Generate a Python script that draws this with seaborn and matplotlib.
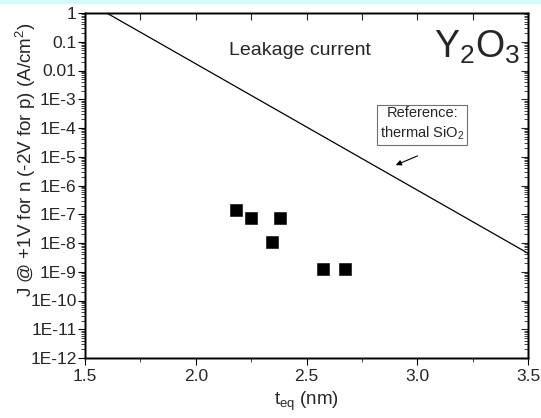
import matplotlib
matplotlib.use("Agg")
import matplotlib.pyplot as plt
import matplotlib.ticker as mticker
from matplotlib.patches import Rectangle
import seaborn as sns
import pandas as pd
import numpy as np

# Data
teq_points = [2.183, 2.248, 2.379, 2.346, 2.576, 2.673]
j_points = [1.44e-7, 7.2e-8, 7.2e-8, 1.08e-8, 1.28e-9, 1.28e-9]
sio2_teq = [1.598, 3.5]
sio2_j = [1.0, 4.4e-9]
ytick_vals = [10.0 ** e for e in range(0, -13, -1)]
ytick_labels = ["1", "0.1", "0.01"] + [f"1E-{k}" for k in range(3, 13)]
xtick_vals = [1.5, 2.0, 2.5, 3.0, 3.5]
xtick_labels = ["1.5", "2.0", "2.5", "3.0", "3.5"]

pts = pd.DataFrame({"teq": teq_points, "J": j_points})
ref = pd.DataFrame({"teq": sio2_teq, "J": sio2_j})

sns.set_style("ticks")
plt.rcParams["font.family"] = ["Liberation Sans", "DejaVu Sans"]
plt.rcParams["mathtext.fontset"] = "custom"
plt.rcParams["mathtext.rm"] = "Liberation Sans"
plt.rcParams["mathtext.it"] = "Liberation Sans"

fig = plt.figure(figsize=(5.41, 4.18), dpi=100)
fig.patch.set_facecolor("white")
fig.patches.append(Rectangle((0, 1 - 4 / 418), 1, 4 / 418, transform=fig.transFigure,
                             facecolor="#d4fafa", edgecolor="none", zorder=0))
ax = fig.add_axes([85 / 541, 1 - 358 / 418, (528 - 85) / 541, (358 - 13) / 418])

sns.lineplot(data=ref, x="teq", y="J", ax=ax, color="black", linewidth=0.9)
sns.scatterplot(data=pts, x="teq", y="J", ax=ax, marker="s", s=72, color="black",
                edgecolor="black", linewidth=0.4, zorder=3)

ax.set_yscale("log")
ax.set_xlim(1.5, 3.5)
ax.set_ylim(1e-12, 1)

ax.set_yticks(ytick_vals)
ax.set_yticklabels(ytick_labels)
ax.yaxis.set_minor_locator(mticker.LogLocator(base=10, subs=np.arange(2, 10), numticks=100))
ax.yaxis.set_minor_formatter(mticker.NullFormatter())
ax.set_xticks(xtick_vals)
ax.set_xticklabels(xtick_labels)
ax.xaxis.set_minor_locator(mticker.MultipleLocator(0.25))

ax.tick_params(axis="both", which="major", labelsize=12.5, direction="out", length=5,
               width=0.8, color="black")
ax.tick_params(axis="y", which="major", pad=1)
ax.tick_params(axis="x", which="major", pad=3)
ax.tick_params(axis="both", which="minor", direction="out", length=3, width=0.6)

# inward ticks on right and top via twin axes
axr = ax.twinx()
axr.set_yscale("log")
axr.set_ylim(ax.get_ylim())
axr.set_yticks(ytick_vals)
axr.yaxis.set_minor_locator(mticker.LogLocator(base=10, subs=np.arange(2, 10), numticks=100))
axr.yaxis.set_minor_formatter(mticker.NullFormatter())
axr.tick_params(axis="y", which="major", direction="in", length=5, width=0.8, labelright=False)
axr.tick_params(axis="y", which="minor", direction="in", length=3, width=0.6)
axr.set_ylabel("")
ax.tick_params(axis="y", which="both", right=False)

axt = ax.twiny()
axt.set_xlim(ax.get_xlim())
axt.set_xticks(np.arange(1.5, 3.51, 0.25))
axt.tick_params(axis="x", which="major", direction="in", length=5, width=0.8, labeltop=False)
axt.set_xlabel("")
ax.tick_params(axis="x", which="both", top=False)

for a in (ax, axr, axt):
    for sp in a.spines.values():
        sp.set_color("black")
        sp.set_linewidth(1.0)
        sp.set_visible(True)

ax.set_xlabel(r"t$_{\mathrm{eq}}$ (nm)", fontsize=13.5, labelpad=4)
ax.set_ylabel(r"J @ +1V for n (-2V for p) (A/cm$^2$)", fontsize=13.5)
ax.yaxis.set_label_coords(-0.107, 0.575)

ax.text(2.47, 10 ** -1.29, "Leakage current", fontsize=14, ha="center", va="center")
ax.text(3.268, 10 ** -1.2, r"Y$_2$O$_3$", fontsize=27, ha="center", va="center")

ax.text(3.022, 10 ** -3.86, "Reference:\nthermal SiO$_2$", fontsize=10.5, ha="center",
        va="center", linespacing=1.3,
        bbox=dict(boxstyle="square,pad=0.2", facecolor="white", edgecolor="#707070",
                  linewidth=0.8))
ax.annotate("", xy=(2.903, 10 ** -5.29), xytext=(3.001, 10 ** -4.97),
            arrowprops=dict(arrowstyle="-|>", color="black", lw=0.8,
                            mutation_scale=8, shrinkA=0, shrinkB=0))

fig.savefig("out.png", dpi=100)
